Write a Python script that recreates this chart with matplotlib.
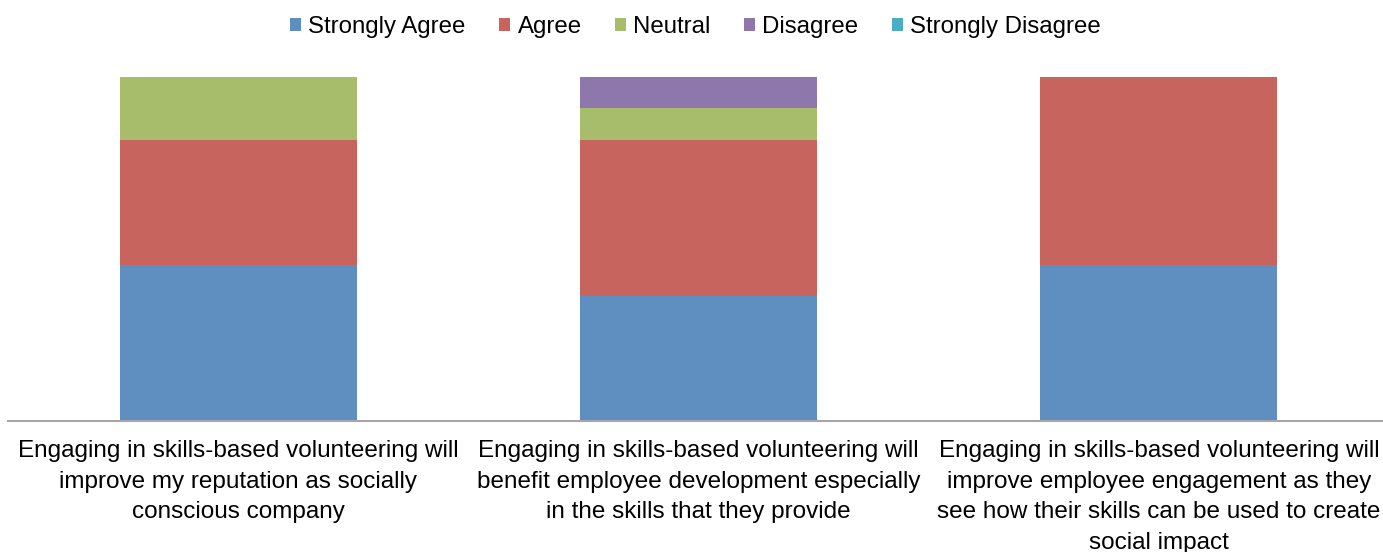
import matplotlib.pyplot as plt
import numpy as np

plt.rcParams['font.family'] = ['Liberation Sans', 'DejaVu Sans']

# survey responses (number of respondents, 11 in total)
categories = [
    "Engaging in skills-based volunteering will\nimprove my reputation as socially\nconscious company",
    "Engaging in skills-based volunteering will\nbenefit employee development especially\nin the skills that they provide",
    "Engaging in skills-based volunteering will\nimprove employee engagement as they\nsee how their skills can be used to create\nsocial impact",
]
responses = ["Strongly Agree", "Agree", "Neutral", "Disagree", "Strongly Disagree"]
strongly_agree = [5, 4, 5]
agree = [4, 5, 6]
neutral = [2, 1, 0]
disagree = [0, 1, 0]
strongly_disagree = [0, 0, 0]
colors = ["#5F8FC0", "#C6645D", "#A7BD6B", "#8E78AB", "#4BACC6"]

series = [strongly_agree, agree, neutral, disagree, strongly_disagree]
totals = np.sum(series, axis=0)

fig = plt.figure(figsize=(13.83, 5.52), dpi=100)
ax = fig.add_axes([8 / 1383, 131 / 552, 1381 / 1383, 344 / 552])

x = np.arange(len(categories))
bottom = np.zeros(len(categories))
for name, vals, col in zip(responses, series, colors):
    share = np.array(vals) / totals
    ax.bar(x, share, 0.515, bottom=bottom, color=col, label=name)
    bottom += share

ax.set_xlim(-0.5, 2.5)
ax.set_ylim(0, 1)
ax.set_yticks([])
ax.set_xticks(x)
ax.set_xticklabels(categories, fontsize=17.5, linespacing=1.5)
ax.tick_params(axis='x', length=0, pad=14)
for s in ['top', 'left', 'right']:
    ax.spines[s].set_visible(False)
ax.spines['bottom'].set_color('#A6A6A6')
ax.spines['bottom'].set_linewidth(1.5)

fig.legend(loc='upper center', bbox_to_anchor=(0.503, 1.01), ncol=5, frameon=False,
           fontsize=17.3, handlelength=0.45, handleheight=0.45, handletextpad=0.3,
           columnspacing=1.4)

fig.savefig('out.png', dpi=100)
